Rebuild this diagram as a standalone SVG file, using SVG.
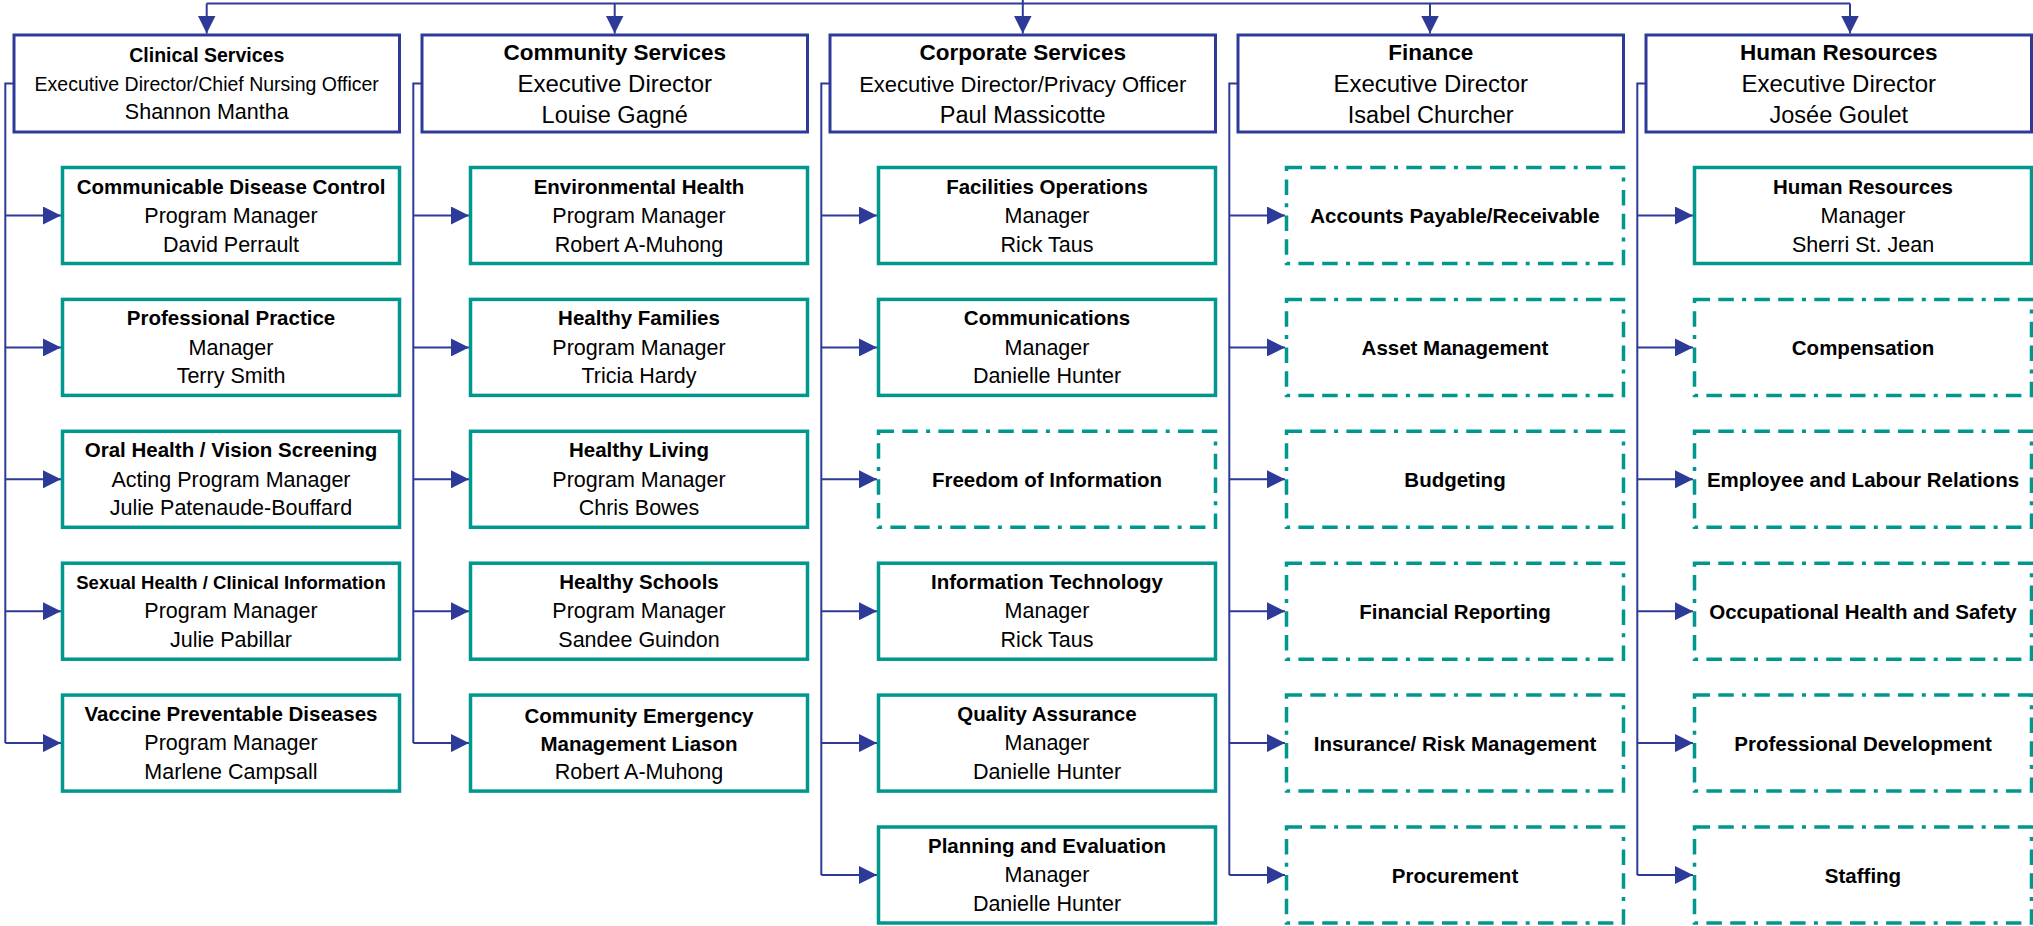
<svg xmlns="http://www.w3.org/2000/svg" width="2033" height="926" viewBox="0 0 2033 926">
<defs>
<style>
.hd{fill:#fff;stroke:#2E3A98;stroke-width:3}
.sv{fill:#fff;stroke:#00978F;stroke-width:3.5}
.dsv{fill:#fff;stroke:#00978F;stroke-width:3.5;stroke-dasharray:15.5 8.3 15.5 8.3 4 8.3}
text{font-family:"Liberation Sans",Arial,sans-serif;text-anchor:middle;fill:#000}
.b{font-weight:bold;font-size:20.5px}
.bs{font-weight:bold;font-size:18.5px}
.r{font-size:21.5px}
.tb{font-weight:bold;font-size:22.5px}
.tr{font-size:24px}
.tn{font-size:23.5px}
.cb{font-weight:bold;font-size:19.5px}
.cr{font-size:19.5px}
.conn{stroke:#2E3A98;stroke-width:2;fill:none}
.arr{stroke:#2E3A98;stroke-width:2;fill:none;marker-end:url(#ah)}
</style>
<marker id="ah" viewBox="0 0 18 18" refX="18" refY="9" markerWidth="18" markerHeight="18" markerUnits="userSpaceOnUse" orient="auto">
<path d="M0,0 L18,9 L0,18 z" fill="#2E3A98"/>
</marker>
</defs>

<g id="connectors">
<path class="conn" d="M206.7,3.5 H1850 M1022.8,0 V3.5"/>
<path class="arr" d="M206.7,3.5 V33.5"/>
<path class="arr" d="M614.7,3.5 V33.5"/>
<path class="arr" d="M1022.8,3.5 V33.5"/>
<path class="arr" d="M1430,3.5 V33.5"/>
<path class="arr" d="M1850,3.5 V33.5"/>
<!-- Clinical -->
<path class="conn" d="M14,83.5 H5.3 V743.1"/>
<path class="arr" d="M5.3,215.5 H61"/>
<path class="arr" d="M5.3,347.4 H61"/>
<path class="arr" d="M5.3,479.3 H61"/>
<path class="arr" d="M5.3,611.2 H61"/>
<path class="arr" d="M5.3,743.1 H61"/>
<!-- Community -->
<path class="conn" d="M422,83.5 H413.3 V743.1"/>
<path class="arr" d="M413.3,215.5 H469"/>
<path class="arr" d="M413.3,347.4 H469"/>
<path class="arr" d="M413.3,479.3 H469"/>
<path class="arr" d="M413.3,611.2 H469"/>
<path class="arr" d="M413.3,743.1 H469"/>
<!-- Corporate -->
<path class="conn" d="M830,83.5 H821.3 V875"/>
<path class="arr" d="M821.3,215.5 H877"/>
<path class="arr" d="M821.3,347.4 H877"/>
<path class="arr" d="M821.3,479.3 H877"/>
<path class="arr" d="M821.3,611.2 H877"/>
<path class="arr" d="M821.3,743.1 H877"/>
<path class="arr" d="M821.3,875 H877"/>
<!-- Finance -->
<path class="conn" d="M1238,83.5 H1229.3 V875"/>
<path class="arr" d="M1229.3,215.5 H1285"/>
<path class="arr" d="M1229.3,347.4 H1285"/>
<path class="arr" d="M1229.3,479.3 H1285"/>
<path class="arr" d="M1229.3,611.2 H1285"/>
<path class="arr" d="M1229.3,743.1 H1285"/>
<path class="arr" d="M1229.3,875 H1285"/>
<!-- HR -->
<path class="conn" d="M1646,83.5 H1637.3 V875"/>
<path class="arr" d="M1637.3,215.5 H1693"/>
<path class="arr" d="M1637.3,347.4 H1693"/>
<path class="arr" d="M1637.3,479.3 H1693"/>
<path class="arr" d="M1637.3,611.2 H1693"/>
<path class="arr" d="M1637.3,743.1 H1693"/>
<path class="arr" d="M1637.3,875 H1693"/>
</g>

<!-- Top level -->
<g id="clinical-services">
<rect class="hd" x="14" y="35" width="385.5" height="97"/>
<text class="cb" x="206.75" y="61.7">Clinical Services</text>
<text class="cr" x="206.75" y="90.7">Executive Director/Chief Nursing Officer</text>
<text class="r" x="206.75" y="119.3">Shannon Mantha</text>
</g>
<g id="community-services">
<rect class="hd" x="422" y="35" width="385.5" height="97"/>
<text class="tb" x="614.75" y="60">Community Services</text>
<text class="tr" x="614.75" y="91.5">Executive Director</text>
<text class="tn" x="614.75" y="122.5">Louise Gagné</text>
</g>
<g id="corporate-services">
<rect class="hd" x="830" y="35" width="385.5" height="97"/>
<text class="tb" x="1022.75" y="60">Corporate Services</text>
<text class="r" x="1022.75" y="91.5" style="font-size:22px">Executive Director/Privacy Officer</text>
<text class="tn" x="1022.75" y="122.5">Paul Massicotte</text>
</g>
<g id="finance">
<rect class="hd" x="1238" y="35" width="385.5" height="97"/>
<text class="tb" x="1430.75" y="60">Finance</text>
<text class="tr" x="1430.75" y="91.5">Executive Director</text>
<text class="tn" x="1430.75" y="122.5">Isabel Churcher</text>
</g>
<g id="human-resources">
<rect class="hd" x="1646" y="35" width="385.5" height="97"/>
<text class="tb" x="1838.75" y="60">Human Resources</text>
<text class="tr" x="1838.75" y="91.5">Executive Director</text>
<text class="tn" x="1838.75" y="122.5">Josée Goulet</text>
</g>

<!-- Clinical children -->
<g id="communicable-disease-control">
<rect class="sv" x="62.5" y="167.5" width="337" height="96"/>
<text class="b" x="231" y="193.5">Communicable Disease Control</text>
<text class="r" x="231" y="222.7">Program Manager</text>
<text class="r" x="231" y="251.5">David Perrault</text>
</g>
<g id="professional-practice">
<rect class="sv" x="62.5" y="299.4" width="337" height="96"/>
<text class="b" x="231" y="325.4">Professional Practice</text>
<text class="r" x="231" y="354.6">Manager</text>
<text class="r" x="231" y="383.4">Terry Smith</text>
</g>
<g id="oral-health">
<rect class="sv" x="62.5" y="431.3" width="337" height="96"/>
<text class="b" x="231" y="457.3">Oral Health / Vision Screening</text>
<text class="r" x="231" y="486.5">Acting Program Manager</text>
<text class="r" x="231" y="515.3">Julie Patenaude-Bouffard</text>
</g>
<g id="sexual-health">
<rect class="sv" x="62.5" y="563.2" width="337" height="96"/>
<text class="bs" x="231" y="589.2">Sexual Health / Clinical Information</text>
<text class="r" x="231" y="618.4">Program Manager</text>
<text class="r" x="231" y="647.2">Julie Pabillar</text>
</g>
<g id="vaccine-preventable-diseases">
<rect class="sv" x="62.5" y="695.1" width="337" height="96"/>
<text class="b" x="231" y="721.1">Vaccine Preventable Diseases</text>
<text class="r" x="231" y="750.3">Program Manager</text>
<text class="r" x="231" y="779.1">Marlene Campsall</text>
</g>

<!-- Community children -->
<g id="environmental-health">
<rect class="sv" x="470.5" y="167.5" width="337" height="96"/>
<text class="b" x="639" y="193.5">Environmental Health</text>
<text class="r" x="639" y="222.7">Program Manager</text>
<text class="r" x="639" y="251.5">Robert A-Muhong</text>
</g>
<g id="healthy-families">
<rect class="sv" x="470.5" y="299.4" width="337" height="96"/>
<text class="b" x="639" y="325.4">Healthy Families</text>
<text class="r" x="639" y="354.6">Program Manager</text>
<text class="r" x="639" y="383.4">Tricia Hardy</text>
</g>
<g id="healthy-living">
<rect class="sv" x="470.5" y="431.3" width="337" height="96"/>
<text class="b" x="639" y="457.3">Healthy Living</text>
<text class="r" x="639" y="486.5">Program Manager</text>
<text class="r" x="639" y="515.3">Chris Bowes</text>
</g>
<g id="healthy-schools">
<rect class="sv" x="470.5" y="563.2" width="337" height="96"/>
<text class="b" x="639" y="589.2">Healthy Schools</text>
<text class="r" x="639" y="618.4">Program Manager</text>
<text class="r" x="639" y="647.2">Sandee Guindon</text>
</g>
<g id="community-emergency">
<rect class="sv" x="470.5" y="695.1" width="337" height="96"/>
<text class="b" x="639" y="723.3">Community Emergency</text>
<text class="b" x="639" y="750.7">Management Liason</text>
<text class="r" x="639" y="779">Robert A-Muhong</text>
</g>

<!-- Corporate children -->
<g id="facilities-operations">
<rect class="sv" x="878.5" y="167.5" width="337" height="96"/>
<text class="b" x="1047" y="193.5">Facilities Operations</text>
<text class="r" x="1047" y="222.7">Manager</text>
<text class="r" x="1047" y="251.5">Rick Taus</text>
</g>
<g id="communications">
<rect class="sv" x="878.5" y="299.4" width="337" height="96"/>
<text class="b" x="1047" y="325.4">Communications</text>
<text class="r" x="1047" y="354.6">Manager</text>
<text class="r" x="1047" y="383.4">Danielle Hunter</text>
</g>
<g id="freedom-of-information">
<rect class="dsv" x="878.5" y="431.3" width="337" height="96"/>
<text class="b" x="1047" y="486.8">Freedom of Information</text>
</g>
<g id="information-technology">
<rect class="sv" x="878.5" y="563.2" width="337" height="96"/>
<text class="b" x="1047" y="589.2">Information Technology</text>
<text class="r" x="1047" y="618.4">Manager</text>
<text class="r" x="1047" y="647.2">Rick Taus</text>
</g>
<g id="quality-assurance">
<rect class="sv" x="878.5" y="695.1" width="337" height="96"/>
<text class="b" x="1047" y="721.1">Quality Assurance</text>
<text class="r" x="1047" y="750.3">Manager</text>
<text class="r" x="1047" y="779.1">Danielle Hunter</text>
</g>
<g id="planning-and-evaluation">
<rect class="sv" x="878.5" y="827" width="337" height="96"/>
<text class="b" x="1047" y="853">Planning and Evaluation</text>
<text class="r" x="1047" y="882.2">Manager</text>
<text class="r" x="1047" y="911">Danielle Hunter</text>
</g>

<!-- Finance children -->
<g id="accounts-payable-receivable">
<rect class="dsv" x="1286.5" y="167.5" width="337" height="96"/>
<text class="b" x="1455" y="223">Accounts Payable/Receivable</text>
</g>
<g id="asset-management">
<rect class="dsv" x="1286.5" y="299.4" width="337" height="96"/>
<text class="b" x="1455" y="354.9">Asset Management</text>
</g>
<g id="budgeting">
<rect class="dsv" x="1286.5" y="431.3" width="337" height="96"/>
<text class="b" x="1455" y="486.8">Budgeting</text>
</g>
<g id="financial-reporting">
<rect class="dsv" x="1286.5" y="563.2" width="337" height="96"/>
<text class="b" x="1455" y="618.7">Financial Reporting</text>
</g>
<g id="insurance-risk-management">
<rect class="dsv" x="1286.5" y="695.1" width="337" height="96"/>
<text class="b" x="1455" y="750.6">Insurance/ Risk Management</text>
</g>
<g id="procurement">
<rect class="dsv" x="1286.5" y="827" width="337" height="96"/>
<text class="b" x="1455" y="882.5">Procurement</text>
</g>

<!-- HR children -->
<g id="hr-manager">
<rect class="sv" x="1694.5" y="167.5" width="337" height="96"/>
<text class="b" x="1863" y="193.5">Human Resources</text>
<text class="r" x="1863" y="222.7">Manager</text>
<text class="r" x="1863" y="251.5">Sherri St. Jean</text>
</g>
<g id="compensation">
<rect class="dsv" x="1694.5" y="299.4" width="337" height="96"/>
<text class="b" x="1863" y="354.9">Compensation</text>
</g>
<g id="employee-labour-relations">
<rect class="dsv" x="1694.5" y="431.3" width="337" height="96"/>
<text class="b" x="1863" y="486.8">Employee and Labour Relations</text>
</g>
<g id="occupational-health-safety">
<rect class="dsv" x="1694.5" y="563.2" width="337" height="96"/>
<text class="b" x="1863" y="618.7">Occupational Health and Safety</text>
</g>
<g id="professional-development">
<rect class="dsv" x="1694.5" y="695.1" width="337" height="96"/>
<text class="b" x="1863" y="750.6">Professional Development</text>
</g>
<g id="staffing">
<rect class="dsv" x="1694.5" y="827" width="337" height="96"/>
<text class="b" x="1863" y="882.5">Staffing</text>
</g>
</svg>
